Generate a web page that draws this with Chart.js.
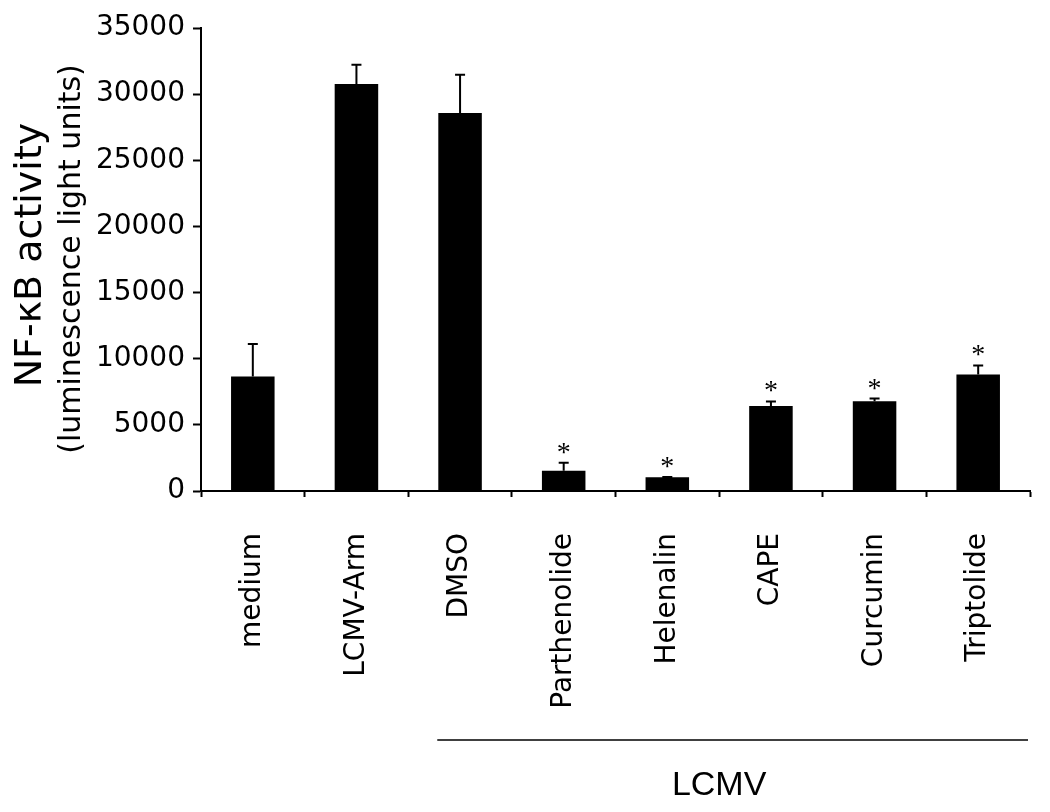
<!DOCTYPE html>
<html>
<head>
<meta charset="utf-8">
<script src="https://cdn.jsdelivr.net/npm/chart.js@4"></script>
<style>
  html, body { margin: 0; padding: 0; background: #fff; }
  #wrap { width: 1050px; height: 812px; }
</style>
</head>
<body>
<div id="wrap"><canvas id="barChart" width="1050" height="812"></canvas></div>
<script>
// data
const labels = ['medium', 'LCMV-Arm', 'DMSO', 'Parthenolide', 'Helenalin', 'CAPE', 'Curcumin', 'Triptolide'];
const activity = [8660, 30760, 28580, 1540, 1040, 6420, 6790, 8810];
const errorTop = [11110, 32220, 31460, 2140, 1060, 6770, 6990, 9490];
const significant = [false, false, false, true, true, true, true, true];
const yTicks = [0, 5000, 10000, 15000, 20000, 25000, 30000, 35000];

const FONT = '"DejaVu Sans", Verdana, sans-serif';

// error bars, asterisks, axis titles and the LCMV bracket
const extras = {
    id: 'extras',
    afterDatasetsDraw(chart) {
        const ctx = chart.ctx;
        const x = chart.scales.x;
        const y = chart.scales.y;
        const area = chart.chartArea;
        ctx.save();
        ctx.strokeStyle = '#000';
        ctx.fillStyle = '#000';
        ctx.lineWidth = 2;
        activity.forEach((v, i) => {
            const px = x.getPixelForValue(i);
            const yTop = y.getPixelForValue(errorTop[i]);
            const yBar = y.getPixelForValue(v);
            ctx.beginPath();
            ctx.moveTo(px, yBar);
            ctx.lineTo(px, yTop);
            ctx.moveTo(px - 5, yTop);
            ctx.lineTo(px + 5, yTop);
            ctx.stroke();
            if (significant[i]) {
                ctx.font = '28px "Liberation Serif", "Times New Roman", serif';
                ctx.textAlign = 'center';
                ctx.textBaseline = 'alphabetic';
                ctx.fillText('*', px, yTop - 2);
            }
        });

        // y axis titles
        ctx.save();
        ctx.translate(31, 255);
        ctx.rotate(-Math.PI / 2);
        ctx.textAlign = 'center';
        ctx.textBaseline = 'middle';
        ctx.font = '38px ' + FONT;
        ctx.fillText('NF-κB activity', 0, 0);
        ctx.restore();
        ctx.save();
        ctx.translate(72, 259);
        ctx.rotate(-Math.PI / 2);
        ctx.textAlign = 'center';
        ctx.textBaseline = 'middle';
        ctx.font = '30px ' + FONT;
        ctx.fillText('(luminescence light units)', 0, 0);
        ctx.restore();

        // LCMV bracket line and label
        const step = x.getPixelForValue(1) - x.getPixelForValue(0);
        const x0 = x.getPixelForValue(2) - step * 0.22;
        const x1 = area.right - 2;
        ctx.lineWidth = 1.5;
        ctx.beginPath();
        ctx.moveTo(x0, 740);
        ctx.lineTo(x1, 740);
        ctx.stroke();
        ctx.font = '34px "Liberation Sans Narrow", "Arial Narrow", sans-serif';
        ctx.textAlign = 'center';
        ctx.textBaseline = 'middle';
        ctx.fillText('LCMV', (x.getPixelForValue(2) + x.getPixelForValue(7)) / 2, 786);
        ctx.restore();
    }
};

const barConfig = {
    type: 'bar',
    data: {
        labels: labels,
        datasets: [{
            label: 'NF-κB activity',
            data: activity,
            backgroundColor: '#000',
            borderWidth: 0,
            barPercentage: 0.42,
            categoryPercentage: 1.0
        }]
    },
    options: {
        responsive: false,
        animation: false,
        layout: { padding: { top: 28, right: 20, left: 0, bottom: 0 } },
        plugins: {
            legend: { display: false },
            title: { display: false },
            tooltip: { enabled: false }
        },
        scales: {
            x: {
                grid: {
                    offset: true,
                    drawOnChartArea: false,
                    tickLength: 6,
                    tickWidth: 2,
                    tickColor: '#000'
                },
                border: { color: '#000', width: 2 },
                ticks: {
                    color: '#000',
                    font: { family: FONT, size: 28 },
                    minRotation: 90,
                    maxRotation: 90,
                    padding: 36,
                    autoSkip: false
                },
                afterFit(scale) { scale.height = 321; }
            },
            y: {
                min: 0,
                max: 35000,
                afterBuildTicks(scale) { scale.ticks = yTicks.map(v => ({ value: v })); },
                grid: {
                    drawOnChartArea: false,
                    tickLength: 8,
                    tickWidth: 2,
                    tickColor: '#000'
                },
                border: { color: '#000', width: 2 },
                ticks: {
                    color: '#000',
                    font: { family: FONT, size: 28 },
                    padding: 8,
                    callback: v => String(v)
                },
                afterFit(scale) { scale.width = 201; }
            }
        }
    },
    plugins: [extras]
};

const barChart = new Chart(document.getElementById('barChart'), barConfig);
</script>
</body>
</html>
